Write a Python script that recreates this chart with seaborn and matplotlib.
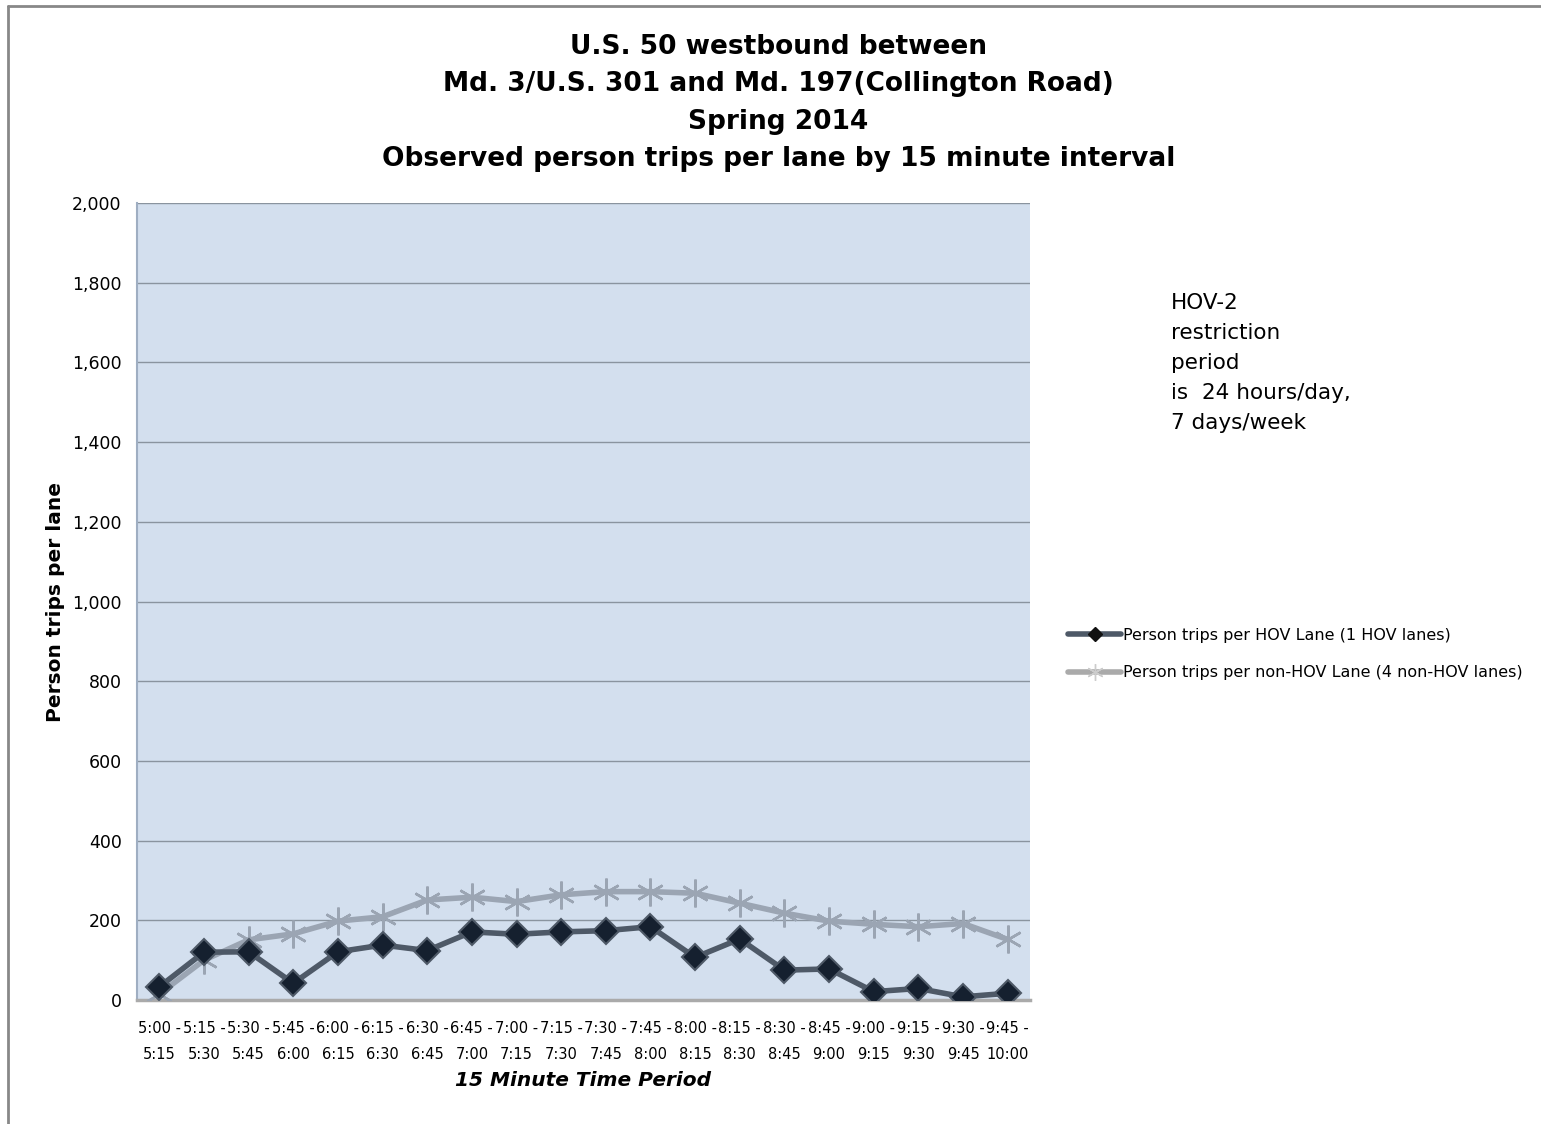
import matplotlib
matplotlib.use("Agg")
import matplotlib.pyplot as plt
import seaborn as sns
import pandas as pd
from matplotlib.lines import Line2D
from matplotlib.ticker import FuncFormatter

starts = ["5:00", "5:15", "5:30", "5:45", "6:00", "6:15", "6:30", "6:45", "7:00", "7:15",
          "7:30", "7:45", "8:00", "8:15", "8:30", "8:45", "9:00", "9:15", "9:30", "9:45"]
ends = ["5:15", "5:30", "5:45", "6:00", "6:15", "6:30", "6:45", "7:00", "7:15", "7:30",
        "7:45", "8:00", "8:15", "8:30", "8:45", "9:00", "9:15", "9:30", "9:45", "10:00"]
hov = [33, 120, 121, 42, 121, 138, 124, 171, 165, 171,
       174, 184, 107, 153, 75, 78, 21, 29, 8, 17]
non_hov = [15, 100, 151, 166, 198, 209, 251, 258, 247, 264,
           272, 272, 268, 243, 218, 198, 190, 184, 192, 152]

hov_label = "Person trips per HOV Lane (1 HOV lanes)"
non_hov_label = "Person trips per non-HOV Lane (4 non-HOV lanes)"
periods = [f"{s} -\n{e}" for s, e in zip(starts, ends)]

df = pd.DataFrame({"pos": range(len(periods)), "hov": hov, "non_hov": non_hov})

sns.set_style("white")
plt.rcParams["font.family"] = ["DejaVu Sans"]
plt.rcParams["text.color"] = "black"
plt.rcParams["axes.labelcolor"] = "black"
plt.rcParams["xtick.color"] = "black"
plt.rcParams["ytick.color"] = "black"

fig = plt.figure(figsize=(15.41, 11.24), dpi=100)
ax = fig.add_axes([0.0889, 0.1103, 0.5795, 0.7091])
ax.set_facecolor("#D3DFEE")

hov_line = "#4E5967"
non_line = "#9BA5B3"

sns.lineplot(data=df, x="pos", y="non_hov", ax=ax, color=non_line, linewidth=4,
             marker=(6, 2, 0), markersize=20, markeredgecolor=non_line,
             markeredgewidth=1.8, zorder=3)
sns.lineplot(data=df, x="pos", y="hov", ax=ax, color=hov_line, linewidth=4,
             marker="D", markersize=13, markerfacecolor="#15202F",
             markeredgecolor="#4E5967", markeredgewidth=1.5, zorder=4)

ax.set_xlim(-0.5, len(periods) - 0.5)
ax.set_ylim(0, 2000)
ax.set_yticks(range(0, 2001, 200))
ax.yaxis.set_major_formatter(FuncFormatter(lambda v, p: f"{int(v):,}"))
ax.grid(axis="y", color="#8A949F", linewidth=1.0)
ax.set_axisbelow(True)
ax.set_xticks(range(len(periods)))
ax.set_xticklabels(periods, fontsize=10.5, linespacing=1.95)
ax.tick_params(axis="x", direction="in", length=5, colors="#999999", labelcolor="black", pad=15)
ax.tick_params(axis="y", direction="out", length=5, color="#888888", labelsize=12.5, pad=6)

for s in ["top", "right"]:
    ax.spines[s].set_visible(False)
ax.spines["left"].set_color("#9FAEC2")
ax.spines["left"].set_linewidth(1.5)
ax.spines["bottom"].set_color("#AAAAAA")
ax.spines["bottom"].set_linewidth(2.5)

ax.set_xlabel("15 Minute Time Period", fontsize=14.5, fontweight="bold", style="italic", labelpad=6)
ax.set_ylabel("Person trips per lane", fontsize=14.5, fontweight="bold", labelpad=5)

fig.text(0.505, 0.970,
         "U.S. 50 westbound between\nMd. 3/U.S. 301 and Md. 197(Collington Road)\nSpring 2014\n"
         "Observed person trips per lane by 15 minute interval",
         ha="center", va="top", fontsize=19, fontweight="bold", linespacing=1.57)

fig.text(0.760, 0.739, "HOV-2\nrestriction\nperiod\nis  24 hours/day,\n7 days/week",
         ha="left", va="top", fontsize=15.5, linespacing=1.62)

handles = [
    Line2D([], [], color=hov_line, linewidth=4, marker="D", markersize=7,
           markerfacecolor="#111111", markeredgecolor="#111111"),
    Line2D([], [], color="#AAAAAA", linewidth=4, marker=(6, 2, 0), markersize=12,
           markeredgecolor="#CCCCCC"),
]
fig.legend(handles, [hov_label, non_hov_label], loc="center left",
           bbox_to_anchor=(0.684, 0.418), frameon=False, handlelength=3.3,
           handletextpad=0.1, labelspacing=1.4, prop={"size": 11.5})

fig.add_artist(Line2D([0.0055, 0.0055], [0, 0.995], color="#888888", linewidth=2,
                      transform=fig.transFigure))
fig.add_artist(Line2D([0.0055, 1], [0.995, 0.995], color="#888888", linewidth=2,
                      transform=fig.transFigure))

fig.savefig("out.png", dpi=100)
